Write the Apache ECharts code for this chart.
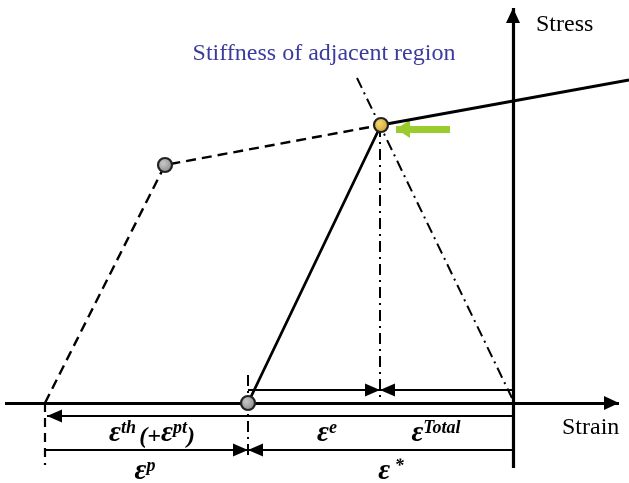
<!DOCTYPE html>
<html>
<head>
<meta charset="utf-8">
<script src="https://cdn.jsdelivr.net/npm/echarts@6/dist/echarts.min.js"></script>
<style>
html,body{margin:0;padding:0;background:#fff;}
#c{width:629px;height:483px;}
</style>
</head>
<body>
<div id="c"></div>
<script>
// ---- diagram data (strain, stress) in schematic units; origin at axis crossing ----
const strainAxis = [[-508, 0], [106, 0]];
const stressAxis = [[0, -65], [0, 395]];
const startPoint = [-468, 0];
const yieldPoint = [-348, 238];
const currentPoint = [-132, 278];
const unloadPoint = [-265, 0];
const hardeningEnd = [116, 323];
const previousPath = [startPoint, yieldPoint, currentPoint];
const loadingPath = [unloadPoint, currentPoint, hardeningEnd];
const adjacentStiffness = [[-156, 325], [-1, 5]];
const dashDotDrops = [[[-133, 277], [-133, 0]], [[-265, 28], [-265, -52]]];
const dashedDrops = [[[-468, 0], [-468, -62]]];
const dimensionArrows = [
  [[-265, 13], [-133, 13]],
  [[0, 13], [-133, 13]],
  [[0, -13], [-466, -13]],
  [[-468, -47], [-265, -47]],
  [[0, -47], [-265, -47]]
];
const pointerArrow = [[-63, 274], [-117, 274]];
const grayPoints = [yieldPoint, unloadPoint];
const highlightPoints = [currentPoint];
const axisNames = ['Strain', 'Stress'];
const noteText = 'Stiffness of adjacent region';

const chart = echarts.init(document.getElementById('c'), null, {renderer: 'canvas'});
const ARROW = 'path://M0,-1L0,-1M0,0L1,1L-1,1Z';
const serif = '"Liberation Serif","Times New Roman",serif';

function seg(list) { return list.map(c => ({coords: c})); }

const epsRich = {
  e: {fontFamily: serif, fontStyle: 'italic', fontWeight: 'bold', fontSize: 29, fill: '#000', verticalAlign: 'bottom'},
  s: {fontFamily: serif, fontStyle: 'italic', fontWeight: 'bold', fontSize: 18, fill: '#000', verticalAlign: 'top'},
  p: {fontFamily: serif, fontStyle: 'italic', fontWeight: 'bold', fontSize: 24, fill: '#000', verticalAlign: 'bottom'}
};
function epsText(x, y, text) {
  return {type: 'text', x: x, y: y, z: 10,
    style: {text: text, rich: epsRich, align: 'center', verticalAlign: 'middle'}};
}

chart.setOption({
  animation: false,
  grid: {left: 0, right: 0, top: 0, bottom: 0},
  xAxis: {type: 'value', min: -513, max: 116, show: false},
  yAxis: {type: 'value', min: -80, max: 403, show: false},
  series: [
    {type: 'lines', coordinateSystem: 'cartesian2d', z: 2,
      symbol: ['none', ARROW], symbolSize: [0, [14, 30]],
      lineStyle: {color: '#000', width: 3.2, opacity: 1},
      data: seg([strainAxis, stressAxis])},
    {type: 'line', z: 3, data: previousPath, symbol: 'none',
      lineStyle: {color: '#000', width: 2.4, type: [10, 6]}},
    {type: 'line', z: 3, data: loadingPath, symbol: 'none',
      lineStyle: {color: '#000', width: 2.8}},
    {type: 'lines', coordinateSystem: 'cartesian2d', z: 3,
      lineStyle: {color: '#000', width: 2, type: [11, 5, 2, 5], opacity: 1},
      data: seg([adjacentStiffness].concat(dashDotDrops))},
    {type: 'lines', coordinateSystem: 'cartesian2d', z: 3,
      lineStyle: {color: '#000', width: 2.2, type: [9, 6], opacity: 1},
      data: seg(dashedDrops)},
    {type: 'lines', coordinateSystem: 'cartesian2d', z: 3,
      symbol: ['none', ARROW], symbolSize: [0, [13, 30]],
      lineStyle: {color: '#000', width: 2.2, opacity: 1},
      data: seg(dimensionArrows)},
    {type: 'lines', coordinateSystem: 'cartesian2d', z: 3,
      symbol: ['none', ARROW], symbolSize: [0, [18, 28]],
      lineStyle: {color: '#9acc2e', width: 7, opacity: 1},
      data: seg([pointerArrow])},
    {type: 'scatter', z: 5, data: grayPoints, symbolSize: 14,
      itemStyle: {color: {type: 'radial', x: 0.4, y: 0.4, r: 0.7,
        colorStops: [{offset: 0, color: '#c8c8c8'}, {offset: 1, color: '#808080'}]},
        borderColor: '#222', borderWidth: 2.2, opacity: 1}},
    {type: 'scatter', z: 5, data: highlightPoints, symbolSize: 14,
      itemStyle: {color: {type: 'radial', x: 0.4, y: 0.4, r: 0.7,
        colorStops: [{offset: 0, color: '#f3d873'}, {offset: 1, color: '#c99a20'}]},
        borderColor: '#222', borderWidth: 2.2, opacity: 1}}
  ],
  graphic: [
    {type: 'text', x: 562, y: 428, style: {text: axisNames[0], font: '24px ' + serif, fill: '#000', align: 'left', verticalAlign: 'middle'}},
    {type: 'text', x: 536, y: 25, style: {text: axisNames[1], font: '24px ' + serif, fill: '#000', align: 'left', verticalAlign: 'middle'}},
    {type: 'text', x: 324, y: 54, style: {text: noteText, font: '24px ' + serif, fill: '#3b3b9e', align: 'center', verticalAlign: 'middle'}},
    epsText(152, 434, '{e|ε}{s|th} {p|(+}{e|ε}{s|pt}{p|)}'),
    epsText(327, 434, '{e|ε}{s|e}'),
    epsText(436, 434, '{e|ε}{s|Total}'),
    epsText(145, 472, '{e|ε}{s|p}'),
    epsText(391, 472, '{e|ε}{s| *}')
  ]
});
</script>
</body>
</html>
